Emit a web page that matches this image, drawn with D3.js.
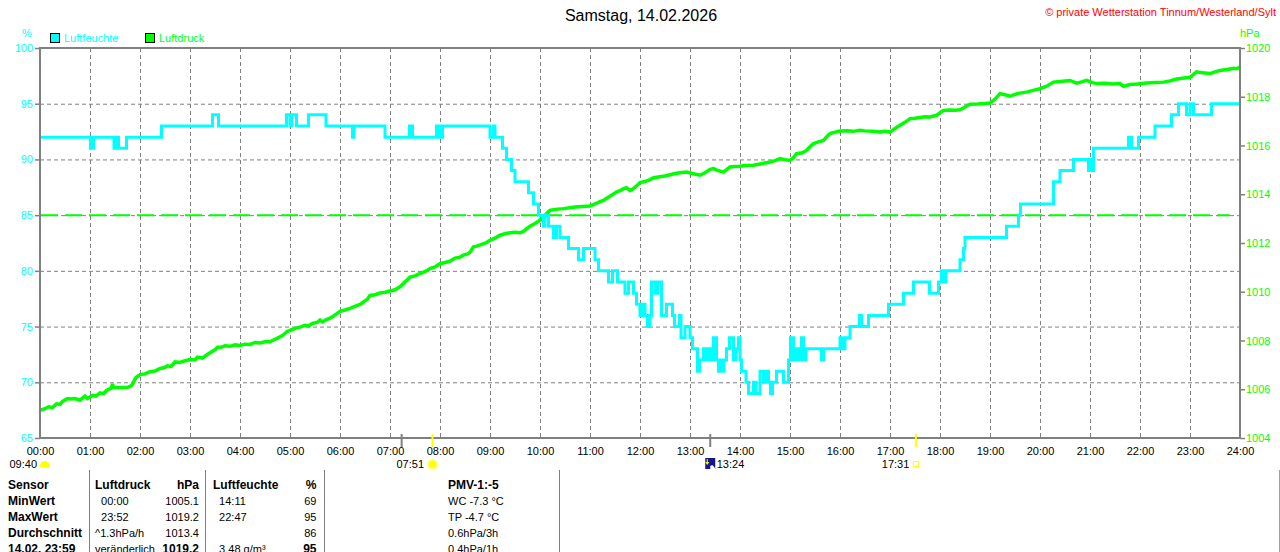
<!DOCTYPE html>
<html><head><meta charset="utf-8">
<script src="https://cdn.jsdelivr.net/npm/d3@7/dist/d3.min.js"></script>
<style>
html,body{margin:0;padding:0;background:#fff;}
svg{display:block;font-family:"Liberation Sans",Arial,sans-serif;}
text{white-space:pre;}
</style></head><body>
<svg id="c" width="1280" height="552"></svg>
<script>
// ---------- DATA ----------
const titleText = "Samstag, 14.02.2026";
const copyrightText = "\u00A9 private Wetterstation Tinnum/Westerland/Sylt";
const seriesNames = ["Luftfeuchte", "Luftdruck"];
const hourTicks = d3.range(0, 25);
const hourLabels = hourTicks.map(h => String(h).padStart(2, "0") + ":00");
const humTicks = [65, 70, 75, 80, 85, 90, 95, 100];
const presTicks = [1004, 1006, 1008, 1010, 1012, 1014, 1016, 1018, 1020];
const refLineHum = 85;

// humidity [hour, %] (step after)
const humidity = [
 [0,92],[1.01,91],[1.07,92],[1.48,91],[1.52,92],[1.57,91],[1.73,92],[2.43,93],
 [3.45,94],[3.57,93],[4.93,94],[5.0,93],[5.04,94],[5.13,93],[5.37,94],[5.72,93],
 [6.25,92],[6.28,93],[6.9,92],[7.39,93],[7.45,92],[7.93,93],[7.99,92],[8.05,93],
 [9.0,92],[9.07,93],[9.1,92],[9.25,91],[9.33,90],[9.43,89],[9.5,88],[9.77,87],
 [9.87,86],[9.97,85],[10.07,84],[10.1,85],[10.17,84],[10.27,83],[10.33,84],[10.4,83],
 [10.57,82],[10.77,81],[10.87,82],[11.1,81],[11.17,80],[11.37,79],[11.45,80],[11.55,79],
 [11.7,78],[11.77,79],[11.87,78],[11.93,77],[12.0,76],[12.05,77],[12.1,76],[12.15,75],
 [12.2,76],[12.23,79],[12.3,78],[12.35,79],[12.43,76],[12.53,77],[12.65,76],[12.69,75],
 [12.79,76],[12.82,74],[12.9,75],[13.0,74],[13.05,73],[13.15,71],[13.19,72],[13.27,73],
 [13.32,72],[13.37,73],[13.41,72],[13.47,74],[13.53,72],[13.57,71],[13.6,72],[13.63,71],
 [13.68,72],[13.73,73],[13.79,74],[13.87,72],[13.92,73],[13.97,74],[14.0,72],[14.03,71],
 [14.12,70],[14.17,69],[14.27,70],[14.32,69],[14.4,71],[14.47,70],[14.51,71],[14.57,70],
 [14.61,69],[14.65,70],[14.73,71],[14.87,70],[14.97,72],[15.01,74],[15.07,72],[15.13,73],
 [15.19,72],[15.23,74],[15.27,72],[15.32,73],[15.63,72],[15.67,73],[16.0,74],[16.05,73],
 [16.1,74],[16.2,75],[16.39,76],[16.43,75],[16.57,76],[16.97,77],[17.27,78],[17.47,79],
 [17.79,78],[17.97,79],[18.03,80],[18.08,79],[18.12,80],[18.4,81],[18.47,82],[18.5,83],
 [19.33,84],[19.57,85],[19.61,86],[20.27,88],[20.4,89],[20.67,90],[20.97,89],[21.0,90],
 [21.03,89],[21.07,91],[21.77,92],[21.83,91],[21.97,92],[22.3,93],[22.63,94],[22.77,95],
 [22.93,94],[23.0,95],[23.07,94],[23.43,95],[24,95]
];

// pressure [hour, hPa]
const pressure = [
 [0,1005.14],[0.1,1005.2],[0.17,1005.28],[0.25,1005.25],[0.33,1005.4],[0.4,1005.38],[0.45,1005.5],
 [0.55,1005.62],[0.62,1005.6],[0.7,1005.62],[0.8,1005.55],[0.9,1005.72],[0.95,1005.62],[1.05,1005.75],
 [1.12,1005.72],[1.2,1005.85],[1.27,1005.82],[1.33,1005.95],[1.43,1006.05],[1.45,1006.22],[1.47,1006.06],
 [1.6,1006.07],[1.75,1006.08],[1.83,1006.15],[1.92,1006.48],[2.0,1006.6],[2.1,1006.63],[2.2,1006.72],
 [2.3,1006.75],[2.4,1006.85],[2.48,1006.88],[2.55,1006.96],[2.62,1006.93],[2.7,1007.12],[2.8,1007.1],
 [2.85,1007.14],[3.0,1007.22],[3.1,1007.2],[3.15,1007.32],[3.25,1007.28],[3.3,1007.36],[3.4,1007.5],
 [3.5,1007.62],[3.55,1007.72],[3.62,1007.72],[3.7,1007.78],[3.8,1007.76],[3.9,1007.82],[4.0,1007.8],
 [4.1,1007.85],[4.2,1007.84],[4.3,1007.92],[4.4,1007.9],[4.5,1007.95],[4.6,1007.95],[4.65,1008.0],
 [4.75,1008.1],[4.85,1008.2],[4.95,1008.38],[5.05,1008.45],[5.1,1008.5],[5.2,1008.55],[5.3,1008.62],
 [5.37,1008.6],[5.45,1008.7],[5.55,1008.75],[5.6,1008.84],[5.65,1008.76],[5.72,1008.85],[5.8,1008.92],
 [5.87,1009.0],[6.0,1009.2],[6.1,1009.25],[6.2,1009.32],[6.3,1009.4],[6.4,1009.48],[6.47,1009.58],
 [6.55,1009.7],[6.6,1009.85],[6.7,1009.88],[6.8,1009.95],[6.9,1009.98],[7.0,1010.03],[7.1,1010.08],
 [7.2,1010.2],[7.3,1010.4],[7.4,1010.6],[7.5,1010.65],[7.6,1010.75],[7.7,1010.82],[7.8,1010.95],
 [7.9,1011.02],[8.0,1011.15],[8.1,1011.2],[8.2,1011.25],[8.3,1011.38],[8.4,1011.42],[8.47,1011.5],
 [8.55,1011.55],[8.6,1011.62],[8.67,1011.84],[8.75,1011.88],[8.85,1011.95],[8.93,1012.02],[9.0,1012.11],
 [9.1,1012.2],[9.2,1012.32],[9.3,1012.38],[9.4,1012.42],[9.5,1012.44],[9.6,1012.42],[9.67,1012.48],
 [9.73,1012.58],[9.8,1012.69],[9.9,1012.8],[9.97,1012.9],[10.07,1013.05],[10.13,1013.2],[10.2,1013.34],
 [10.3,1013.38],[10.47,1013.41],[10.6,1013.45],[10.7,1013.48],[10.85,1013.5],[11.0,1013.52],[11.1,1013.6],
 [11.2,1013.7],[11.27,1013.75],[11.4,1013.92],[11.53,1014.09],[11.6,1014.15],[11.68,1014.24],[11.73,1014.27],
 [11.8,1014.15],[11.85,1014.2],[11.93,1014.34],[12.0,1014.48],[12.1,1014.52],[12.2,1014.6],[12.27,1014.68],
 [12.4,1014.72],[12.5,1014.75],[12.6,1014.8],[12.7,1014.85],[12.8,1014.88],[12.93,1014.91],[13.05,1014.85],
 [13.2,1014.78],[13.3,1014.88],[13.4,1015.02],[13.47,1015.05],[13.55,1014.98],[13.67,1014.91],[13.8,1015.12],
 [13.9,1015.14],[14.0,1015.15],[14.1,1015.18],[14.27,1015.19],[14.4,1015.24],[14.5,1015.28],[14.6,1015.32],
 [14.7,1015.38],[14.8,1015.46],[14.9,1015.42],[15.0,1015.39],[15.07,1015.5],[15.13,1015.67],[15.25,1015.7],
 [15.33,1015.8],[15.4,1015.95],[15.47,1016.08],[15.57,1016.15],[15.67,1016.21],[15.73,1016.35],[15.8,1016.49],
 [15.9,1016.55],[16.0,1016.59],[16.15,1016.6],[16.27,1016.58],[16.4,1016.62],[16.5,1016.6],[16.65,1016.58],
 [16.8,1016.55],[16.9,1016.58],[17.0,1016.55],[17.1,1016.7],[17.2,1016.83],[17.3,1016.95],[17.4,1017.1],
 [17.5,1017.12],[17.6,1017.15],[17.7,1017.18],[17.8,1017.17],[17.93,1017.24],[18.0,1017.35],[18.07,1017.44],
 [18.2,1017.46],[18.3,1017.45],[18.4,1017.47],[18.5,1017.58],[18.6,1017.69],[18.75,1017.7],[18.9,1017.72],
 [19.0,1017.74],[19.1,1017.9],[19.2,1018.13],[19.3,1018.08],[19.4,1018.02],[19.5,1018.1],[19.6,1018.15],
 [19.75,1018.2],[19.9,1018.28],[20.0,1018.33],[20.15,1018.45],[20.27,1018.6],[20.45,1018.64],[20.6,1018.67],
 [20.73,1018.56],[20.85,1018.62],[20.93,1018.67],[21.05,1018.58],[21.13,1018.54],[21.3,1018.55],[21.45,1018.52],
 [21.6,1018.54],[21.67,1018.43],[21.8,1018.5],[21.95,1018.52],[22.13,1018.56],[22.3,1018.58],[22.47,1018.6],
 [22.6,1018.65],[22.73,1018.73],[22.85,1018.76],[23.0,1018.8],[23.07,1018.92],[23.13,1019.02],[23.25,1018.98],
 [23.4,1018.95],[23.5,1019.02],[23.6,1019.08],[23.75,1019.12],[23.87,1019.17],[23.93,1019.15],[24.0,1019.2]
];

// sun / moon events (hour)
const grayMarks = [7.233, 13.405];
const sunrise = 7.85, sunset = 17.517, moonEvent = 13.405;
const eventLabels = ["09:40", "07:51", "13:24", "17:31"];

// table
const tableRows = [
 ["Sensor", "Luftdruck", "hPa", "Luftfeuchte", "%", "PMV-1:-5"],
 ["MinWert", "  00:00", "1005.1", "  14:11", "69", "WC -7.3 \u00B0C"],
 ["MaxWert", "  23:52", "1019.2", "  22:47", "95", "TP -4.7 \u00B0C"],
 ["Durchschnitt", "^1.3hPa/h", "1013.4", "", "86", "0.6hPa/3h"],
 ["14.02. 23:59", "ver\u00E4nderlich", "1019.2", "  3.48 g/m\u00B3", "95", "0.4hPa/1h"]
];
const boldCells = [[4,0],[4,2],[4,4]];

// ---------- DRAW ----------
const svg = d3.select("#c");
const CYAN = "#00ffff", GREEN = "#00ff00", GRAY = "#808080";
const x = d3.scaleLinear().domain([0, 24]).range([40, 1240]);
const yH = d3.scaleLinear().domain([65, 100]).range([438, 48]);
const yP = d3.scaleLinear().domain([1004, 1020]).range([438, 48]);

// title & copyright
svg.append("text").attr("x", 641).attr("y", 21).attr("text-anchor", "middle")
  .attr("font-size", 16).attr("fill", "#000").text(titleText);
svg.append("text").attr("x", 1276).attr("y", 16).attr("text-anchor", "end")
  .attr("font-size", 11).attr("fill", "#ff0000").text(copyrightText);

// unit labels
svg.append("text").attr("x", 27).attr("y", 37).attr("text-anchor", "middle")
  .attr("font-size", 11).attr("fill", CYAN).text("%");
svg.append("text").attr("x", 1240).attr("y", 37)
  .attr("font-size", 11).attr("fill", GREEN).text("hPa");

// legend
const legCols = [CYAN, GREEN];
const legX = [50, 145];
seriesNames.forEach((n, i) => {
  svg.append("rect").attr("x", legX[i] + 0.5).attr("y", 33.5).attr("width", 9).attr("height", 9)
    .attr("fill", legCols[i]).attr("stroke", "#000").attr("stroke-width", 1);
  svg.append("text").attr("x", legX[i] + 14).attr("y", 42).attr("font-size", 11)
    .attr("fill", legCols[i]).text(n);
});

// grid
const grid = svg.append("g");
grid.selectAll("line.v").data(hourTicks.slice(1, 24)).join("line")
  .attr("x1", d => x(d) + 0.5).attr("x2", d => x(d) + 0.5).attr("y1", 48).attr("y2", 438)
  .attr("stroke", GRAY).attr("stroke-dasharray", "4,3");
grid.selectAll("line.h").data(humTicks.slice(1, 7)).join("line")
  .attr("x1", 40).attr("x2", 1240).attr("y1", d => yH(d) + 0.5).attr("y2", d => yH(d) + 0.5)
  .attr("stroke", GRAY).attr("stroke-dasharray", "4,3");

// reference dashed green line
svg.append("line").attr("x1", 41).attr("x2", 1230).attr("y1", yH(refLineHum)).attr("y2", yH(refLineHum))
  .attr("stroke", GREEN).attr("stroke-width", 2).attr("stroke-dasharray", "17,7");

// axes
const axL = svg.append("g").attr("transform", "translate(40,0)")
  .call(d3.axisLeft(yH).tickValues(humTicks).tickSize(5).tickPadding(2).tickFormat(d3.format("d")));
axL.select(".domain").remove();
axL.selectAll("line").attr("stroke", GRAY).attr("stroke-width", 1.5);
axL.selectAll("text").attr("fill", CYAN).attr("font-size", 11).attr("font-family", "Liberation Sans, Arial");

const axR = svg.append("g").attr("transform", "translate(1240,0)")
  .call(d3.axisRight(yP).tickValues(presTicks).tickSize(5).tickPadding(1).tickFormat(d3.format("d")));
axR.select(".domain").remove();
axR.selectAll("line").attr("stroke", GRAY).attr("stroke-width", 1.5);
axR.selectAll("text").attr("fill", GREEN).attr("font-size", 11).attr("font-family", "Liberation Sans, Arial");

const axB = svg.append("g").attr("transform", "translate(0,438)")
  .call(d3.axisBottom(x).tickValues(hourTicks).tickSize(0).tickPadding(9).tickFormat((d, i) => hourLabels[i]));
axB.select(".domain").remove();
axB.selectAll("text").attr("fill", "#000").attr("font-size", 11).attr("font-family", "Liberation Sans, Arial");

// series
svg.append("path").datum(pressure)
  .attr("d", d3.line().x(d => x(d[0])).y(d => yP(d[1])))
  .attr("fill", "none").attr("stroke", GREEN).attr("stroke-width", 3.5).attr("stroke-linejoin", "miter");
svg.append("path").datum(humidity)
  .attr("d", d3.line().curve(d3.curveStepAfter).x(d => x(d[0])).y(d => yH(d[1])))
  .attr("fill", "none").attr("stroke", CYAN).attr("stroke-width", 3);

// frame
svg.append("rect").attr("x", 40).attr("y", 48).attr("width", 1200).attr("height", 390)
  .attr("fill", "none").attr("stroke", GRAY).attr("stroke-width", 2);

// event marks
svg.selectAll("line.gm").data(grayMarks).join("line")
  .attr("x1", d => x(d)).attr("x2", d => x(d)).attr("y1", 434).attr("y2", 447)
  .attr("stroke", GRAY).attr("stroke-width", 2);
svg.selectAll("line.ym").data([sunrise, sunset]).join("line")
  .attr("x1", d => x(d)).attr("x2", d => x(d)).attr("y1", 434).attr("y2", 447)
  .attr("stroke", "#ffff00").attr("stroke-width", 2);

// day length
svg.append("text").attr("x", 37).attr("y", 468).attr("text-anchor", "end").attr("font-size", 11).text(eventLabels[0]);
svg.append("path").attr("d", "M40,467.5 Q40,461 45,461 Q50,461 50,467.5 Z").attr("fill", "#ffff00");
// sunrise
const sx = x(sunrise);
svg.append("circle").attr("cx", sx).attr("cy", 464.5).attr("r", 6).attr("fill", "#ffffb0");
svg.append("circle").attr("cx", sx).attr("cy", 464.5).attr("r", 4).attr("fill", "#ffff00");
svg.append("text").attr("x", sx - 8.5).attr("y", 468).attr("text-anchor", "end").attr("font-size", 11).text(eventLabels[1]);
// moon
const mx = x(moonEvent);
svg.append("rect").attr("x", mx - 5).attr("y", 458).attr("width", 10).attr("height", 11).attr("fill", "#16168a");
svg.append("path").attr("d", `M${mx-3.5},459 L${mx-2.5},459 L${mx-2.5},462 L${mx-1},462 L${mx-3},465 L${mx-5},462 L${mx-3.5},462 Z`).attr("fill", "#ffff00");
svg.append("path").attr("d", `M${mx},469 L${mx},466 L${mx+2},465 L${mx+4},467 L${mx+5},469 Z`).attr("fill", "#ffffff");
svg.append("text").attr("x", mx + 6.5).attr("y", 468).attr("font-size", 11).text(eventLabels[2]);
// sunset
const ssx = x(sunset);
svg.append("rect").attr("x", ssx - 2.5).attr("y", 461.5).attr("width", 5).attr("height", 5)
  .attr("fill", "none").attr("stroke", "#ffff00").attr("stroke-width", 1);
svg.append("text").attr("x", ssx - 6.5).attr("y", 468).attr("text-anchor", "end").attr("font-size", 11).text(eventLabels[3]);

// table
const sepX = [89, 205, 324, 559, 1279];
svg.selectAll("line.sep").data(sepX).join("line")
  .attr("x1", d => d + 0.5).attr("x2", d => d + 0.5).attr("y1", 470).attr("y2", 552)
  .attr("stroke", (d, i) => i === 4 ? "#a0a0a0" : GRAY).attr("stroke-width", 1);
const colX = [8, 95, 199, 213, 316.5, 448];
const colAnchor = ["start", "start", "end", "start", "end", "start"];
tableRows.forEach((row, r) => {
  row.forEach((cell, c) => {
    const bold = r === 0 || c === 0 || boldCells.some(b => b[0] === r && b[1] === c);
    svg.append("text").attr("x", colX[c]).attr("y", 489 + 16 * r)
      .attr("text-anchor", colAnchor[c])
      .attr("font-size", bold ? 12 : 11).attr("font-weight", bold ? "bold" : "normal")
      .attr("fill", "#000").text(cell);
  });
});
</script>
</body></html>
